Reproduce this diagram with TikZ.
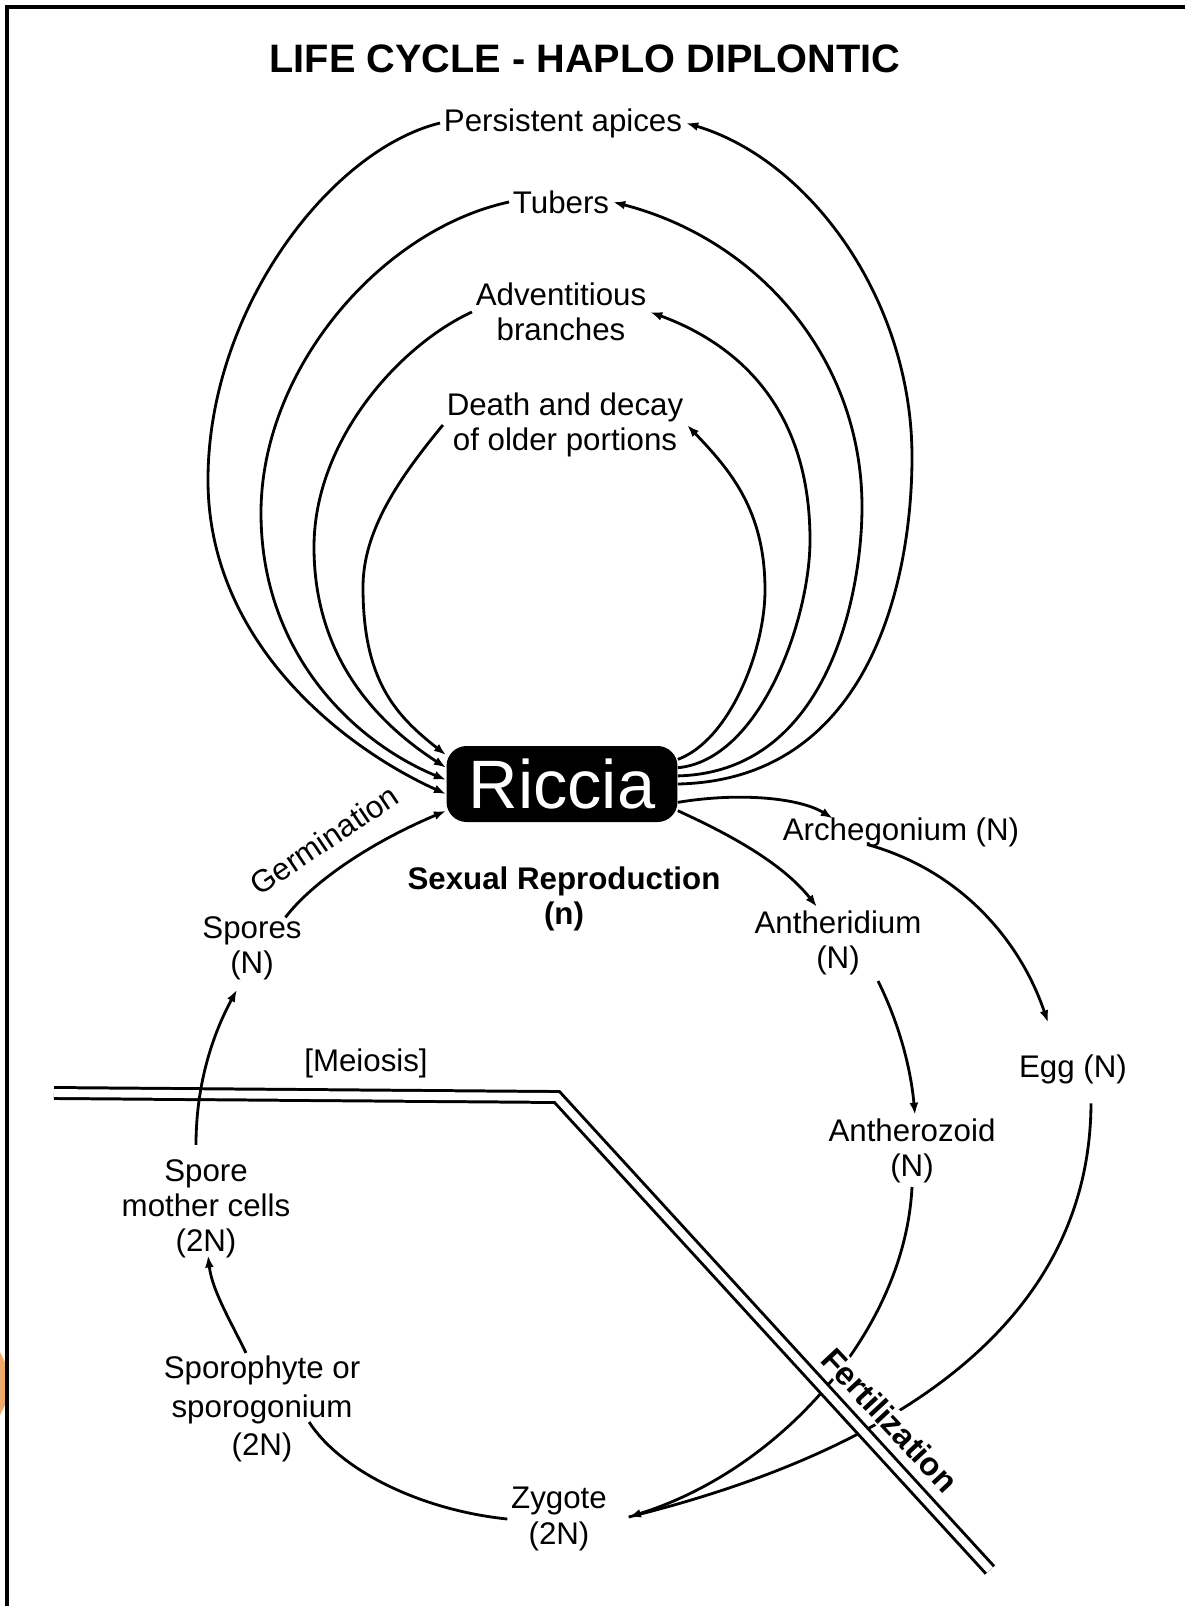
\documentclass[tikz,border=0pt]{standalone}
\usepackage{fontspec}
\setmainfont{Liberation Sans}
\usetikzlibrary{arrows.meta,calc}
\newcommand{\lblsize}{\fontsize{17.8}{20}\selectfont}
\definecolor{blob}{RGB}{238,170,105}
\tikzset{
  lbl/.style={font=\lblsize, align=center, inner sep=2pt},
  boldlbl/.style={font=\lblsize\bfseries, align=center, inner sep=2pt},
  arr/.style={line width=1.6pt, -{Latex[length=7pt,width=5pt]}},
  link/.style={line width=1.6pt},
}

\begin{document}
\begin{tikzpicture}[x=0.02cm, y=-0.02cm]
  %%%%% START %%%%%
  \useasboundingbox (0,0) rectangle (1185,1606);
  \fill[blob] (0,1352) -- (5,1362) -- (5,1405) -- (0,1415) -- cycle;
  \draw[line width=2pt] (7,1606) -- (7,7) -- (1185,7);

  \node[font=\fontsize{22.6}{26}\selectfont\bfseries] (title) at (585,59) {LIFE CYCLE - HAPLO DIPLONTIC};

  \node[fill=black, rounded corners=0.4cm, minimum width=4.62cm, minimum height=1.52cm,
        text=white, font=\fontsize{39}{44}\selectfont, inner sep=0pt] (riccia) at (562,784) {Riccia};

  % vegetative loops
  \node[lbl] (persist) at (563,123) {Persistent apices};
  \node[lbl] (tubers) at (561,202) {Tubers};
  \node[lbl] (adv) at (561,312) {Adventitious\\branches};
  \node[lbl] (death) at (565,425) {Death and decay\\of older portions};

  \draw[arr] (riccia.12) .. controls (730,740) and (765,650) .. (765,590)
    .. controls (765,510) and (730,470) .. (death.east);
  \draw[arr] (death.west) .. controls (400,477) and (363,530) .. (363,587)
    .. controls (363,680) and (395,715) .. (riccia.166);

  \draw[arr] (riccia.8) .. controls (760,760) and (810,620) .. (810,540)
    .. controls (810,410) and (740,345) .. (adv.east);
  \draw[arr] (adv.west) .. controls (400,345) and (314,440) .. (314,547)
    .. controls (314,660) and (380,725) .. (riccia.172);

  \draw[arr] (riccia.4) .. controls (830,772) and (862,590) .. (862,507)
    .. controls (862,360) and (760,240) .. (tubers.east);
  \draw[arr] (tubers.west) .. controls (380,230) and (261,370) .. (261,513)
    .. controls (261,650) and (350,740) .. (riccia.178);

  \draw[arr] (riccia.0) .. controls (870,780) and (912,580) .. (912,457)
    .. controls (912,300) and (810,160) .. (persist.east);
  \draw[arr] (persist.west) .. controls (330,150) and (208,310) .. (208,480)
    .. controls (208,640) and (340,746) .. (riccia.185);

  % sexual side
  \node[lbl, rotate=34] (germ) at (324,840) {Germination};
  \node[boldlbl] (sexual) at (564,899) {Sexual Reproduction\\(n)};
  \node[lbl] (spores) at (252,948) {Spores\\(N)};
  \node[lbl] (arch) at (901,832) {Archegonium (N)};
  \node[lbl] (anther) at (838,943) {Antheridium\\(N)};
  \node[lbl] (meiosis) at (366,1063) {[Meiosis]};
  \node[lbl] (egg) at (1073,1069) {Egg (N)};
  \node[lbl] (antherozoid) at (912,1151) {Antherozoid\\(N)};
  \node[lbl] (smc) at (206,1209) {Spore\\mother cells\\(2N)};
  \node[lbl, font=\fontsize{17.8}{22}\selectfont] (sporo) at (262,1409) {Sporophyte or\\sporogonium\\(2N)};
  \node[lbl] (zygote) at (559,1519) {Zygote\\(2N)};

  \draw[arr] (riccia.351) .. controls (740,792) and (800,798) .. ($(arch.north)+(-68,5)$);
  \draw[arr] ($(arch.south)+(-34,-6)$) .. controls (960,870) and (1020,940) .. ($(egg.north)+(-25,-28)$);
  \draw[arr] (riccia.347) .. controls (720,830) and (780,860) .. ($(anther.north)+(-21,0)$);
  \draw[arr] ($(anther.south)+(40,2)$) .. controls (895,1015) and (910,1060) .. ($(antherozoid.north)+(3,0)$);
  \draw[arr] (antherozoid.south) .. controls (905,1330) and (780,1470) .. ($(zygote.east)+(18,-2)$);
  \draw[link] ($(egg.south)+(18,16)$) .. controls (1090,1320) and (900,1450) .. ($(zygote.east)+(18,-2)$);
  \draw[link] ($(sporo.east)+(-55,13)$) .. controls (340,1470) and (420,1510) .. (zygote.west);
  \draw[arr] ($(sporo.north)+(-16,1)$) .. controls (230,1320) and (212,1290) .. ($(smc.south)+(2,-7)$);
  \draw[arr] ($(spores.north east)+(-20,5)$) .. controls (310,885) and (365,845) .. (riccia.193);

  % meiosis / fertilization boundary
  \draw[line width=1.7pt, double distance=4.5pt] (54,1093) -- (557,1097) -- (990,1570);
  \node[font=\fontsize{18.5}{22}\selectfont\bfseries, fill=white, inner sep=1pt, rotate=-47] (fert) at (890,1420) {Fertilization};

  \draw[arr] ($(smc.north)+(-10,-11)$) .. controls (196,1080) and (215,1030) .. ($(spores.south)+(-15,6)$);
  %%%%% END %%%%%
\end{tikzpicture}
\end{document}
